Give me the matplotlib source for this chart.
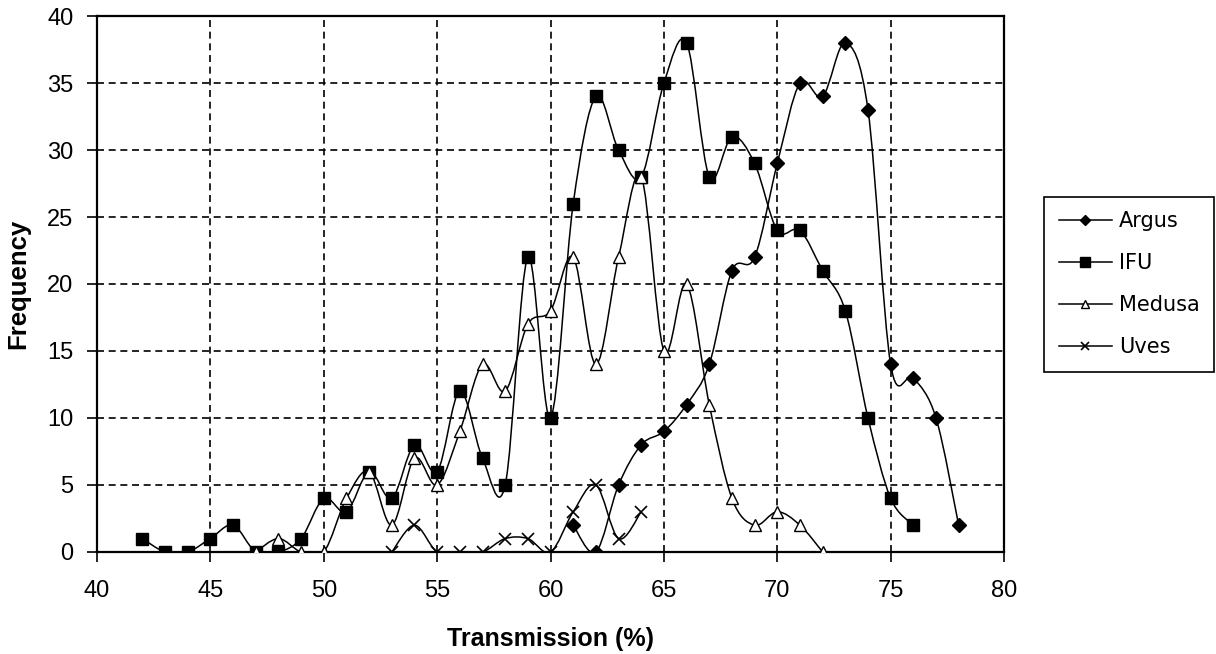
import numpy as np
import matplotlib
matplotlib.use("Agg")
import matplotlib.pyplot as plt
from matplotlib.path import Path
from matplotlib.patches import PathPatch
from matplotlib.lines import Line2D

plt.rcParams['font.family'] = ['Liberation Sans', 'DejaVu Sans']

# Frequency per transmission bin (%)
argus_x = list(range(61, 79))
argus_y = [2, 0, 5, 8, 9, 11, 14, 21, 22, 29, 35, 34, 38, 33, 14, 13, 10, 2]

ifu_x = list(range(42, 77))
ifu_y = [1, 0, 0, 1, 2, 0, 0, 1, 4, 3, 6, 4, 8, 6, 12, 7, 5, 22, 10, 26,
         34, 30, 28, 35, 38, 28, 31, 29, 24, 24, 21, 18, 10, 4, 2]

medusa_x = list(range(47, 73))
medusa_y = [0, 1, 0, 0, 4, 6, 2, 7, 5, 9, 14, 12, 17, 18, 22, 14, 22, 28,
            15, 20, 11, 4, 2, 3, 2, 0]

uves_x = list(range(53, 65))
uves_y = [0, 2, 0, 0, 0, 1, 1, 0, 3, 5, 1, 3]

x_ticks = list(range(40, 81, 5))
y_ticks = list(range(0, 41, 5))


def smooth_path(x, y):
    # Excel-style smoothed line: Catmull-Rom as cubic Bezier segments
    pts = np.column_stack([x, y]).astype(float)
    n = len(pts)
    verts = [pts[0]]
    codes = [Path.MOVETO]
    for i in range(n - 1):
        p0 = pts[i - 1] if i > 0 else pts[i]
        p1 = pts[i]
        p2 = pts[i + 1]
        p3 = pts[i + 2] if i + 2 < n else pts[i + 1]
        verts += [p1 + (p2 - p0) / 6, p2 - (p3 - p1) / 6, p2]
        codes += [Path.CURVE4] * 3
    return Path(verts, codes)


fig = plt.figure(figsize=(12.16, 6.54), dpi=100)
ax = fig.add_axes([0.0798, 0.156, 0.7459, 0.8195])

series = [
    ("Argus", argus_x, argus_y, dict(marker='D', ms=7, mfc='black')),
    ("IFU", ifu_x, ifu_y, dict(marker='s', ms=9, mfc='black')),
    ("Medusa", medusa_x, medusa_y, dict(marker='^', ms=8.5, mfc='white')),
    ("Uves", uves_x, uves_y, dict(marker='x', ms=8, mew=1.2)),
]

handles = []
for name, xs, ys, style in series:
    ax.add_patch(PathPatch(smooth_path(xs, ys), fill=False, lw=1.1,
                           edgecolor='black', zorder=3))
    ax.plot(xs, ys, linestyle='none', color='black', mec='black',
            zorder=4, **style)
    handles.append(Line2D([], [], color='black', lw=1.1, mec='black',
                          **{**style, 'ms': style['ms'] * 0.75}))

ax.set_xlim(40, 80)
ax.set_ylim(0, 40)
ax.set_xticks(x_ticks)
ax.set_yticks(y_ticks)
ax.grid(True, color='black', linestyle=(0, (4.2, 2.8)), linewidth=1.2)
ax.tick_params(direction='out', length=7, width=1.2, labelsize=17,
               colors='black')
ax.tick_params(axis='x', pad=13)
ax.tick_params(axis='y', pad=10)
for s in ax.spines.values():
    s.set_linewidth(1.6)
    s.set_color('black')

ax.set_xlabel("Transmission (%)", fontsize=18, fontweight='bold', labelpad=18)
ax.set_ylabel("Frequency", fontsize=18.5, fontweight='bold', labelpad=12)

fig.legend(handles=handles, labels=[s[0] for s in series],
           loc='upper left', bbox_to_anchor=(0.8585, 0.699),
           prop={'family': 'DejaVu Sans', 'size': 15},
           frameon=True, fancybox=False, edgecolor='black',
           framealpha=1, handlelength=2.55, labelspacing=1.05,
           borderpad=0.7, handletextpad=0.35, borderaxespad=0)
fig.legends[0].get_frame().set_linewidth(1.2)

fig.savefig("out.png", dpi=100)
